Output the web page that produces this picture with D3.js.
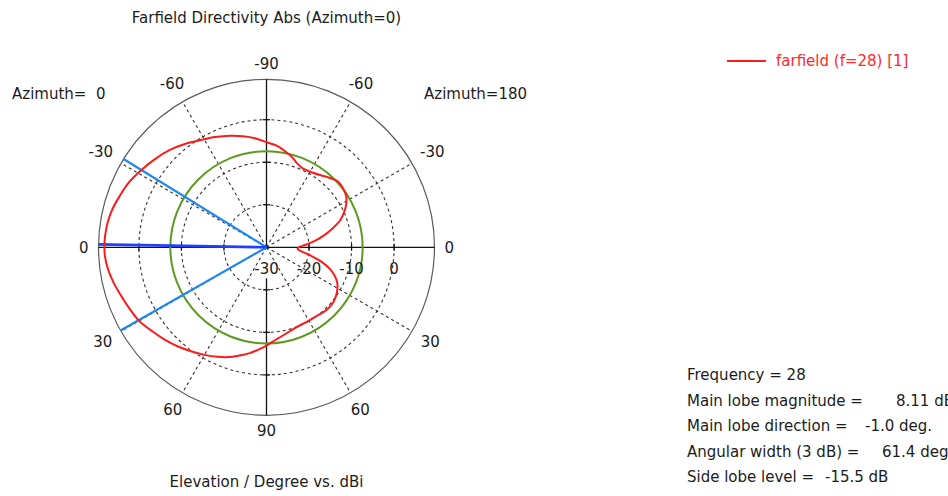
<!DOCTYPE html>
<html>
<head>
<meta charset="utf-8">
<script src="https://cdn.jsdelivr.net/npm/d3@7"></script>
<style>
  body { margin: 0; background: #ffffff; }
  text { font-family: "DejaVu Sans", sans-serif; font-size: 15px; fill: #1c1c1c; }
</style>
</head>
<body>
<svg id="chart" width="948" height="496"></svg>
<script>
// Polar angle theta (deg): 0 = left (Azimuth 0, elevation 0), 90 = bottom,
// 180 = right (Azimuth 180, elevation 0), 270 / -90 = top.
const angles = [
  -90, -84, -78, -72, -65, -59, -52, -45, -38, -31, -25, -19, -14, -9, -4, -1,
  3, 8, 13, 18, 24, 30, 37, 43, 48, 54, 60, 66, 71, 76, 81, 86,
  90, 96, 102, 110, 118, 126, 134, 141, 147, 153, 157, 161, 165, 169, 173, 177,
  180, 184, 188, 192, 196, 200, 204, 208, 213, 218, 223, 228, 233, 239, 245, 250,
  254, 259, 264
];
const directivity = [
  -5.3, -4.2, -3.3, -2.4, -1.4, -0.5, 0.9, 2.3, 3.5, 4.7, 5.8, 6.6, 7.3, 7.8, 8.05, 8.11,
  8.05, 7.6, 6.9, 6.1, 5.3, 4.6, 3.2, 2.2, 1.3, 0.2, -0.8, -1.8, -2.7, -3.8, -4.8, -6.0,
  -6.9, -8.2, -9.1, -9.9, -10.1, -10.0, -9.6, -9.7, -10.3, -11.3, -12.5, -14.2, -16.5, -19.2, -21.6, -22.7,
  -22.4, -20.6, -18.3, -16.0, -13.8, -11.6, -10.1, -8.8, -7.7, -7.25, -7.2, -8.0, -8.8, -9.4, -9.6, -9.0,
  -8.0, -7.0, -6.0
];

const ringLevels = [-20, -10, 0];          // dashed grid circles (dBi)
const radialLabels = [-30, -20, -10, 0];   // labels along the right half-axis
const spokeAngles = [30, 60, 120, 150, 210, 240, 300, 330];
const angleTicks = [-90, -60, -30, 0, 30, 60, 90, 120, 150, 180, 210, 240];

const frequency = 28;
const mainLobeMagnitude = 8.11;
const mainLobeDirection = -1.0;
const angularWidth = 61.4;
const sideLobeLevel = -15.5;

const svg = d3.select("#chart");
const cx = 266.5, cy = 247.3, R = 168;

const r = d3.scaleLinear().domain([-30, 9.5]).range([0, R]);
const rad = d => d * Math.PI / 180;
const pt = (theta, rr) => [cx - rr * Math.cos(rad(theta)), cy + rr * Math.sin(rad(theta))];

const g = svg.append("g");

// Outer boundary
g.append("circle").attr("cx", cx).attr("cy", cy).attr("r", R)
  .attr("fill", "none").attr("stroke", "#5a5a5a").attr("stroke-width", 1.2);

// Dashed grid circles
g.selectAll("circle.ring").data(ringLevels).join("circle")
  .attr("class", "ring")
  .attr("cx", cx).attr("cy", cy).attr("r", d => r(d))
  .attr("fill", "none").attr("stroke", "#333").attr("stroke-width", 1.1)
  .attr("stroke-dasharray", "3,3");

// Dashed spokes
g.selectAll("line.spoke").data(spokeAngles).join("line")
  .attr("class", "spoke")
  .attr("x1", cx).attr("y1", cy)
  .attr("x2", d => pt(d, R)[0]).attr("y2", d => pt(d, R)[1])
  .attr("stroke", "#333").attr("stroke-width", 1.1).attr("stroke-dasharray", "3,3");

// Solid axes
const axisColor = "#111";
g.append("line").attr("x1", pt(0, R)[0]).attr("y1", cy).attr("x2", pt(180, R)[0]).attr("y2", cy)
  .attr("stroke", axisColor).attr("stroke-width", 1.3);
g.append("line").attr("x1", cx).attr("y1", pt(270, R)[1]).attr("x2", cx).attr("y2", cy)
  .attr("stroke", axisColor).attr("stroke-width", 1.3);
g.append("line").attr("x1", cx).attr("y1", cy + 31).attr("x2", cx).attr("y2", pt(90, R)[1])
  .attr("stroke", axisColor).attr("stroke-width", 1.3);

// Small ticks on the half-axes
[0, 90, 180, 270].forEach(th => {
  ringLevels.forEach(lv => {
    const [x, y] = pt(th, r(lv));
    const horiz = (th % 180 === 0);
    g.append("line")
      .attr("x1", horiz ? x : x - 3.5).attr("x2", horiz ? x : x + 3.5)
      .attr("y1", horiz ? y - 3.5 : y).attr("y2", horiz ? y + 3.5 : y)
      .attr("stroke", axisColor).attr("stroke-width", 1.2);
  });
});

// Side lobe level reference circle
g.append("circle").attr("cx", cx).attr("cy", cy)
  .attr("r", r(mainLobeMagnitude + sideLobeLevel))
  .attr("fill", "none").attr("stroke", "#5e9a22").attr("stroke-width", 2);

// 3 dB beam-width limits and main lobe direction
const half = angularWidth / 2;
[mainLobeDirection - half, mainLobeDirection + half].forEach(th => {
  const [x, y] = pt(th, R);
  g.append("line").attr("x1", cx).attr("y1", cy).attr("x2", x).attr("y2", y)
    .attr("stroke", "#1e88f0").attr("stroke-width", 2.2);
});
{
  const [x, y] = pt(mainLobeDirection, R);
  g.append("line").attr("x1", cx).attr("y1", cy).attr("x2", x).attr("y2", y)
    .attr("stroke", "#2040ff").attr("stroke-width", 2.6);
}

// Farfield pattern
const pattern = angles.map((a, i) => ({ theta: a, db: directivity[i] }));
const line = d3.lineRadial()
  .angle(d => rad(270 - d.theta))
  .radius(d => r(d.db))
  .curve(d3.curveCatmullRomClosed.alpha(0.5));
g.append("path").datum(pattern)
  .attr("transform", `translate(${cx},${cy})`)
  .attr("d", line)
  .attr("fill", "none").attr("stroke", "#ff1a1a").attr("stroke-width", 2);

// Angle labels around the circle
angleTicks.forEach(th => {
  const label = th <= 90 ? th : 180 - th;
  const t = svg.append("text").text(label).attr("text-anchor", "middle");
  const bb = t.node().getBBox();
  const c = Math.cos(rad(th)), s = Math.sin(rad(th));
  const ext = Math.abs(c) * bb.width / 2 + Math.abs(s) * 5.5;
  const [x, y] = pt(th, R + 10 + ext);
  t.attr("x", x).attr("y", y + 5.5);
});

// Radial labels
radialLabels.forEach(v => {
  svg.append("text").text(v).attr("text-anchor", "middle")
    .attr("x", cx + r(v)).attr("y", cy + 27);
});

// Titles
svg.append("text").attr("x", cx).attr("y", 23).attr("text-anchor", "middle")
  .text("Farfield Directivity Abs (Azimuth=0)");
svg.append("text").attr("x", cx).attr("y", 487).attr("text-anchor", "middle")
  .text("Elevation / Degree vs. dBi");
svg.append("text").attr("x", 12).attr("y", 99).style("white-space", "pre").text("Azimuth=  0");
svg.append("text").attr("x", 424).attr("y", 99).text("Azimuth=180");

// Legend
svg.append("line").attr("x1", 727).attr("x2", 766).attr("y1", 61).attr("y2", 61)
  .attr("stroke", "#ff1a1a").attr("stroke-width", 2);
svg.append("text").attr("x", 776).attr("y", 66).style("fill", "#ff2a2a")
  .text(`farfield (f=${frequency}) [1]`);

// Result summary
const info = [
  [`Frequency = ${frequency}`, null, null],
  ["Main lobe magnitude =", `${mainLobeMagnitude.toFixed(2)} dBi`, 896],
  ["Main lobe direction =", `${mainLobeDirection.toFixed(1)} deg.`, 865],
  ["Angular width (3 dB) =", `${angularWidth.toFixed(1)} deg.`, 882],
  ["Side lobe level =", `${sideLobeLevel.toFixed(1)} dB`, 825]
];
info.forEach((row, i) => {
  const y = 380 + i * 25.5;
  svg.append("text").attr("x", 687).attr("y", y).text(row[0]);
  if (row[1]) svg.append("text").attr("x", row[2]).attr("y", y).text(row[1]);
});
</script>
</body>
</html>
